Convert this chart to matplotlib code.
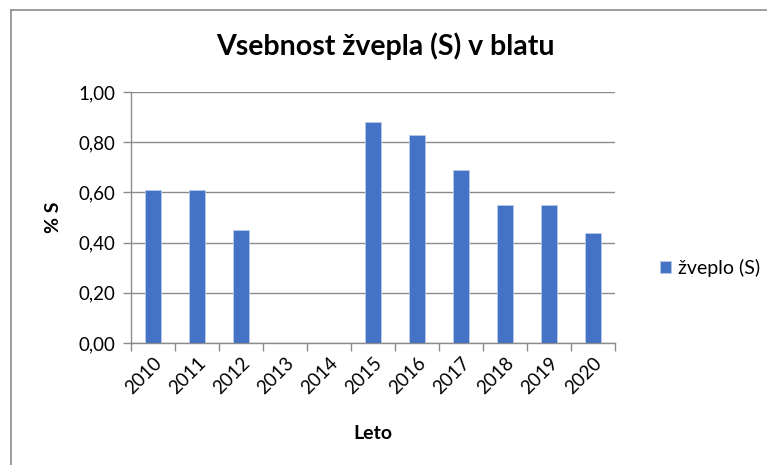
import matplotlib
matplotlib.use("Agg")
import matplotlib.pyplot as plt
from matplotlib.lines import Line2D
import numpy as np

years = ["2010", "2011", "2012", "2013", "2014", "2015", "2016", "2017", "2018", "2019", "2020"]
sulfur = [0.61, 0.61, 0.45, 0, 0, 0.88, 0.83, 0.69, 0.55, 0.55, 0.44]
yticks = [0.0, 0.2, 0.4, 0.6, 0.8, 1.0]
ytick_labels = ["0,00", "0,20", "0,40", "0,60", "0,80", "1,00"]

plt.rcParams['font.family'] = ['Lato', 'DejaVu Sans']

W, H = 767, 465
fig = plt.figure(figsize=(W / 100, H / 100), dpi=100)
ax = fig.add_axes([131 / W, 1 - 343 / H, (615 - 131) / W, (343 - 92) / H])

x = np.arange(len(years))
vals = [v if v > 0 else np.nan for v in sulfur]
ax.bar(x, vals, width=0.38, color="#4472C4", edgecolor="#B8C9EA", linewidth=0.6,
       label="žveplo (S)", zorder=3)

ax.set_xlim(-0.5, len(years) - 0.5)
ax.set_ylim(0, 1.0)
ax.set_yticks(yticks)
ax.set_yticklabels(ytick_labels, fontsize=13.5)
ax.yaxis.grid(True, color="#8C8C8C", linewidth=1.0, zorder=0)

ax.set_xticks(np.arange(-0.5, len(years), 1.0))
ax.set_xticklabels([])
ax.set_xticks(x, minor=True)
ax.set_xticklabels(years, minor=True, rotation=45, fontsize=13.5, ha="right",
                   rotation_mode="anchor")
ax.tick_params(axis="x", which="minor", length=0, pad=8)
ax.tick_params(axis="x", which="major", length=6, color="#8C8C8C", width=1)
ax.tick_params(axis="y", length=6, color="#8C8C8C", width=1, pad=5)

for s in ["top", "right"]:
    ax.spines[s].set_visible(False)
for s in ["left", "bottom"]:
    ax.spines[s].set_color("#8C8C8C")
    ax.spines[s].set_linewidth(1.0)

ax.set_xlabel("Leto", fontsize=14, fontweight="bold", labelpad=20)
ax.set_ylabel("% S", fontsize=14, fontweight="bold", labelpad=12)

fig.text(385 / W, 1 - 46 / H, "Vsebnost žvepla (S) v blatu", fontsize=20.5,
         fontweight="bold", ha="center", va="center")

leg = ax.legend(loc="center left", bbox_to_anchor=(642 / W, 1 - 268 / H),
                bbox_transform=fig.transFigure, frameon=False, fontsize=14,
                handlelength=0.6, handleheight=0.6, handletextpad=0.35)

fig.add_artist(Line2D([11 / W, 11 / W], [0, 1 - 10 / H], transform=fig.transFigure,
                      color="#8C8C8C", linewidth=1.2))
fig.add_artist(Line2D([11 / W, 1], [1 - 10 / H, 1 - 10 / H], transform=fig.transFigure,
                      color="#8C8C8C", linewidth=1.2))

fig.savefig("out.png", dpi=100)
